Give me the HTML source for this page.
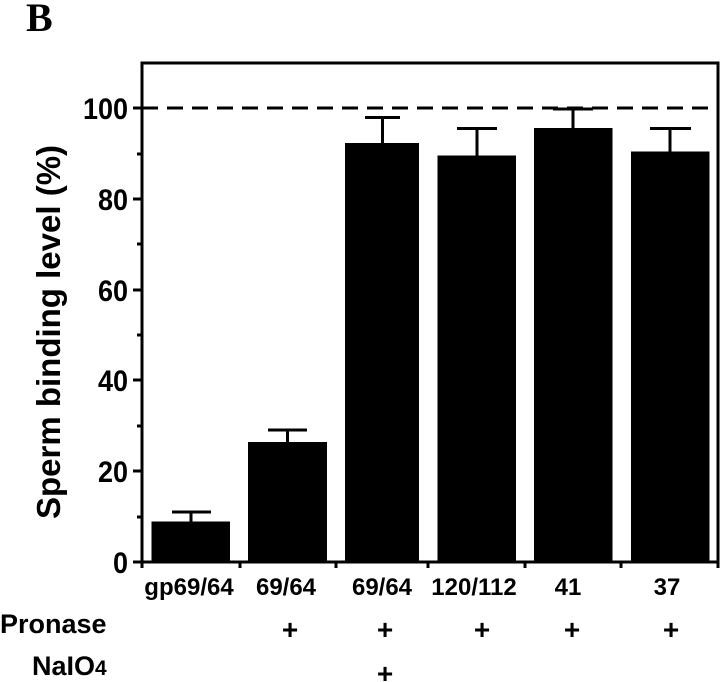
<!DOCTYPE html>
<html><head><meta charset="utf-8"><style>
html,body{margin:0;padding:0;background:#fff;}
svg{display:block;}
text{font-family:"Liberation Sans",Arial,sans-serif;font-weight:bold;fill:#000;}
</style></head><body>
<svg width="720" height="682" viewBox="0 0 720 682" xmlns="http://www.w3.org/2000/svg">
<text x="26" y="31" style="font-family:'Liberation Serif',serif;font-size:40px;">B</text>
<text transform="translate(60,332) rotate(-90)" text-anchor="middle" style="font-size:33px;">Sperm binding level (%)</text>
<rect x="142" y="63" width="576" height="499" fill="none" stroke="#000" stroke-width="3"/>
<line x1="142" y1="108" x2="718" y2="108" stroke="#000" stroke-width="3" stroke-dasharray="16,9"/>
<g stroke="#000" stroke-width="3">
<line x1="133" y1="562" x2="142" y2="562"/>
<line x1="133" y1="471" x2="142" y2="471"/>
<line x1="133" y1="380" x2="142" y2="380"/>
<line x1="133" y1="290" x2="142" y2="290"/>
<line x1="133" y1="199" x2="142" y2="199"/>
<line x1="133" y1="108" x2="142" y2="108"/>
<line x1="137" y1="517" x2="142" y2="517"/>
<line x1="137" y1="426" x2="142" y2="426"/>
<line x1="137" y1="335" x2="142" y2="335"/>
<line x1="137" y1="244" x2="142" y2="244"/>
<line x1="137" y1="154" x2="142" y2="154"/>
<line x1="240" y1="562" x2="240" y2="568"/>
<line x1="336" y1="562" x2="336" y2="568"/>
<line x1="428" y1="562" x2="428" y2="568"/>
<line x1="525" y1="562" x2="525" y2="568"/>
<line x1="621" y1="562" x2="621" y2="568"/>
<line x1="718" y1="562" x2="718" y2="568"/>
<line x1="142" y1="562" x2="142" y2="568"/>
</g>
<g text-anchor="end" style="font-size:30px;" transform="translate(128,0) scale(0.9,1) translate(-128,0)">
<text x="128" y="573">0</text>
<text x="128" y="482">20</text>
<text x="128" y="391">40</text>
<text x="128" y="301">60</text>
<text x="128" y="210">80</text>
<text x="128" y="119">100</text>
</g>
<g fill="#000">
<rect x="151.5" y="521.5" width="78.5" height="40.5"/>
<rect x="248" y="442" width="79" height="120"/>
<rect x="345" y="143" width="74" height="419"/>
<rect x="437.5" y="155.5" width="78.5" height="406.5"/>
<rect x="534" y="128" width="78.5" height="434"/>
<rect x="631" y="151.5" width="78.5" height="410.5"/>
</g>
<g stroke="#000" stroke-width="3">
<line x1="191" y1="512" x2="191" y2="522"/><line x1="172" y1="512" x2="211" y2="512"/>
<line x1="287.5" y1="430" x2="287.5" y2="442"/><line x1="268" y1="430" x2="307" y2="430"/>
<line x1="382.5" y1="117.5" x2="382.5" y2="143"/><line x1="365" y1="117.5" x2="400" y2="117.5"/>
<line x1="477" y1="128.5" x2="477" y2="156"/><line x1="457" y1="128.5" x2="497" y2="128.5"/>
<line x1="573" y1="109" x2="573" y2="128"/><line x1="553" y1="109" x2="593" y2="109"/>
<line x1="670" y1="128.5" x2="670" y2="152"/><line x1="650" y1="128.5" x2="691" y2="128.5"/>
</g>
<g text-anchor="middle" style="font-size:24px;">
<text x="189" y="595">gp69/64</text>
<text x="286" y="595">69/64</text>
<text x="382" y="595">69/64</text>
<text x="474" y="595">120/112</text>
<text x="568" y="595">41</text>
<text x="667" y="595">37</text>
</g>
<text x="0" y="633" style="font-size:27px;">Pronase</text>
<g text-anchor="middle" style="font-size:28px;">
<text x="290" y="639">+</text>
<text x="385" y="639">+</text>
<text x="482" y="639">+</text>
<text x="572" y="639">+</text>
<text x="671" y="639">+</text>
<text x="385" y="683">+</text>
</g>
<text x="32" y="675" style="font-size:27px;">NaIO<tspan style="font-size:21px;">4</tspan></text>
</svg>
</body></html>
